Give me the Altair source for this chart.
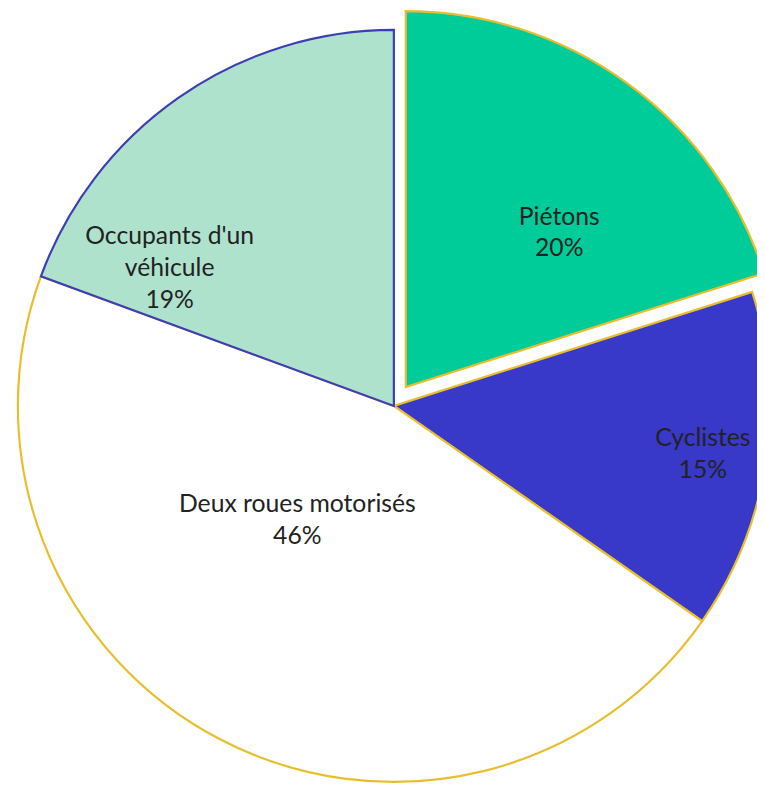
import math
import altair as alt
import pandas as pd

# data
categories = ["Piétons", "Cyclistes", "Deux roues motorisés", "Occupants d'un véhicule"]
values = [20.1, 14.6, 45.9, 19.4]
label_lines = [["Piétons"], ["Cyclistes"], ["Deux roues motorisés"], ["Occupants d'un", "véhicule"]]

# styles / placement
fills = ["#00CC99", "#3838C9", "#FFFFFF", "#AFE2CD"]
strokes = ["#E9BE2C", "#E9BE2C", "#E9BE2C", "#3E3EB4"]
label_shift_deg = [7.5, 0.2, 12.7, -23.5]
label_radius = [242, 316, 151, 266]
LINE_H = 32

CX, CY, R = 390, 398, 380
EXPLODE_DX, EXPLODE_DY = 12, -19

total = sum(values)
rows = []
cum = 0
for i, (c, v) in enumerate(zip(categories, values)):
    mid = (cum + v / 2) / total * 360
    cum += v
    pct = f"{round(v / total * 100)}%"
    lines = label_lines[i] + [pct]
    a = math.radians(mid + label_shift_deg[i])
    lx = label_radius[i] * math.sin(a)
    ly = -label_radius[i] * math.cos(a) - (len(lines) - 1) * LINE_H / 2
    rows.append({
        "cat": c,
        "val": v,
        "order": i,
        "label": lines,
        "lab_theta": math.atan2(lx, -ly),
        "lab_r": math.hypot(lx, ly),
        "exploded": 1 if i == 0 else 0,
    })
df = pd.DataFrame(rows)

color = alt.Color("cat:N", scale=alt.Scale(domain=categories, range=fills), legend=None)
stroke = alt.Stroke("cat:N", scale=alt.Scale(domain=categories, range=strokes), legend=None)

base = alt.Chart(df).encode(
    theta=alt.Theta("val:Q", stack=True),
    order=alt.Order("order:Q"),
    color=color,
    stroke=stroke,
    x=alt.value(CX),
    y=alt.value(CY),
)

pie_rest = base.mark_arc(outerRadius=R, strokeWidth=2.2).encode(
    opacity=alt.condition("datum.exploded == 1", alt.value(0), alt.value(1))
)
pie_explode = base.mark_arc(outerRadius=R, strokeWidth=2.2, xOffset=EXPLODE_DX, yOffset=EXPLODE_DY).encode(
    opacity=alt.condition("datum.exploded == 1", alt.value(1), alt.value(0))
)

labels = alt.Chart(df).mark_text(
    font="Lato", fontSize=25, color="#222222", align="center", baseline="middle", lineHeight=LINE_H
).encode(
    theta=alt.Theta("lab_theta:Q", scale=None),
    radius=alt.Radius("lab_r:Q", scale=None),
    text="label",
    x=alt.value(CX),
    y=alt.value(CY),
)

chart = alt.layer(pie_rest, pie_explode, labels).resolve_scale(
    theta="independent"
).properties(
    width=757, height=778, padding=0, autosize="none"
).configure_view(stroke=None)

chart.save("out.html", embed_options={"renderer": "svg", "actions": False})
